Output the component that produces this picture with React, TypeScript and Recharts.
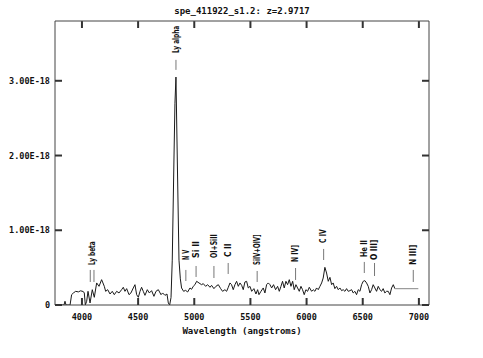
import { ComposedChart, Line, XAxis, YAxis, ReferenceLine, ReferenceDot, Label } from 'recharts';

// wavelength (angstroms) and flux (units of 1E-18)
const waves = [3800, 3840, 3849, 3858, 3894, 3908, 3923, 3944, 3968, 3988, 4012, 4021, 4030, 4042, 4054, 4072, 4092, 4110, 4131, 4152, 4175, 4199, 4211, 4229, 4250, 4270, 4288, 4309, 4330, 4353, 4368, 4383, 4398, 4419, 4436, 4457, 4472, 4487, 4502, 4517, 4531, 4546, 4561, 4582, 4600, 4620, 4641, 4659, 4680, 4704, 4718, 4739, 4757, 4769, 4781, 4793, 4804, 4819, 4828, 4837, 4849, 4864, 4876, 4887, 4905, 4923, 4941, 4962, 4976, 4991, 5006, 5021, 5042, 5065, 5080, 5101, 5119, 5140, 5154, 5175, 5193, 5214, 5235, 5252, 5273, 5288, 5303, 5318, 5332, 5347, 5362, 5377, 5392, 5407, 5422, 5436, 5451, 5466, 5481, 5496, 5511, 5531, 5549, 5564, 5576, 5594, 5614, 5629, 5644, 5659, 5674, 5689, 5706, 5724, 5742, 5757, 5772, 5786, 5801, 5816, 5831, 5846, 5861, 5876, 5890, 5905, 5920, 5935, 5950, 5964, 5979, 5994, 6009, 6024, 6045, 6059, 6074, 6089, 6104, 6119, 6134, 6148, 6163, 6178, 6193, 6208, 6223, 6237, 6252, 6267, 6282, 6297, 6312, 6326, 6341, 6356, 6371, 6386, 6401, 6415, 6430, 6445, 6460, 6475, 6490, 6504, 6519, 6534, 6549, 6564, 6579, 6593, 6608, 6623, 6638, 6653, 6668, 6682, 6697, 6712, 6727, 6742, 6757, 6772, 6786];
const fluxes = [0, 0, 0.05, 0, 0, 0.138, 0.16, 0.183, 0.175, 0.19, 0.18, 0.16, 0, 0.05, 0.183, 0.027, 0.205, 0.103, 0.295, 0.25, 0.339, 0.25, 0.183, 0.205, 0.147, 0.183, 0.138, 0.183, 0.161, 0.205, 0.237, 0.183, 0.219, 0.138, 0.161, 0.228, 0.272, 0.138, 0.103, 0.183, 0.237, 0.183, 0.129, 0.205, 0.161, 0.192, 0.116, 0.183, 0.205, 0.138, 0.161, 0.129, 0.147, 0.027, 0, 0.1, 0.6, 1.94, 2.7, 3.05, 1.94, 0.6, 0.35, 0.228, 0.183, 0.196, 0.174, 0.228, 0.21, 0.25, 0.272, 0.317, 0.295, 0.272, 0.286, 0.25, 0.272, 0.237, 0.263, 0.219, 0.25, 0.272, 0.219, 0.183, 0.205, 0.183, 0.237, 0.295, 0.272, 0.205, 0.272, 0.317, 0.25, 0.295, 0.263, 0.205, 0.308, 0.317, 0.228, 0.25, 0.183, 0.219, 0.147, 0.205, 0.138, 0.183, 0.228, 0.161, 0.272, 0.295, 0.272, 0.228, 0.272, 0.205, 0.25, 0.183, 0.25, 0.317, 0.228, 0.317, 0.272, 0.339, 0.25, 0.317, 0.205, 0.272, 0.228, 0.183, 0.25, 0.205, 0.138, 0.205, 0.183, 0.237, 0.183, 0.205, 0.183, 0.228, 0.205, 0.25, 0.295, 0.361, 0.504, 0.428, 0.317, 0.37, 0.272, 0.295, 0.219, 0.25, 0.205, 0.228, 0.192, 0.205, 0.183, 0.219, 0.183, 0.192, 0.205, 0.161, 0.183, 0.138, 0.205, 0.183, 0.272, 0.317, 0.326, 0.295, 0.25, 0.161, 0.205, 0.272, 0.228, 0.183, 0.25, 0.205, 0.183, 0.219, 0.161, 0.183, 0.183, 0.138, 0.228, 0.272, 0.219];

// grey continuation past the end of the data
const tailWaves = [6786, 6995];
const tailFluxes = [0.219, 0.219];

const xTicks = [4000, 4500, 5000, 5500, 6000, 6500, 7000];
const yTicks = [0, 1, 2, 3];
const yMax = 3.8;
const topTickLen = 0.094; // ~7px in flux units

// line markers: wavelength, bottom and top of the marker (flux units)
const markerWaves = [4074, 4107, 4837, 4925, 5016, 5175, 5302, 5560, 5902, 6152, 6514, 6605, 6950];
const markerLows = [0.308, 0.308, 3.146, 0.321, 0.375, 0.361, 0.415, 0.308, 0.335, 0.602, 0.428, 0.388, 0.308];
const markerHighs = [0.469, 0.469, 3.28, 0.469, 0.522, 0.522, 0.562, 0.455, 0.495, 0.75, 0.576, 0.562, 0.469];

// line names: wavelength and the flux level where the text starts
const lineNames = ['Ly beta', 'Ly alpha', 'N V', 'Si II', 'OI+SiII', 'C II', 'SiIV+OIV]', 'N IV]', 'C IV', 'He II', 'O III]', 'N III]'];
const nameWaves = [4090, 4837, 4925, 5016, 5175, 5302, 5560, 5902, 6152, 6514, 6605, 6950];
const nameLevels = [0.535, 3.373, 0.602, 0.629, 0.629, 0.643, 0.535, 0.576, 0.83, 0.643, 0.602, 0.535];

const spectrum = waves.map((w, i) => ({ wave: w, flux: fluxes[i] }));
const tail = tailWaves.map((w, i) => ({ wave: w, flux: tailFluxes[i] }));

const FONT = '"DejaVu Sans Mono", monospace';
const FRAME = '#444';
const TICK = '#333';

const fmtY = (v: number) => (v === 0 ? '0' : `${v.toFixed(2)}E-18`);

const BottomTick = ({ x, y, payload }: any) => (
  <g>
    <line x1={x} x2={x} y1={y} y2={y - 7} stroke={TICK} strokeWidth={2} />
    <text x={x} y={y + 15} textAnchor="middle" fontFamily={FONT} fontWeight="bold" fontSize={8.5} fill="#111">
      {payload.value}
    </text>
  </g>
);

const LeftTick = ({ x, y, payload }: any) => (
  <g>
    <line x1={x} x2={x + 7} y1={y} y2={y} stroke={TICK} strokeWidth={2} />
    <text x={x - 5} y={y} dy="0.35em" textAnchor="end" fontFamily={FONT} fontWeight="bold" fontSize={8.5} fill="#111">
      {fmtY(payload.value)}
    </text>
  </g>
);

const RightTick = ({ x, y }: any) => <line x1={x} x2={x - 7} y1={y} y2={y} stroke={TICK} strokeWidth={2} />;

export default function App() {
  return (
    <div style={{ position: 'absolute', left: 0, top: 0, background: '#fff' }}>
      <ComposedChart width={483} height={358} data={spectrum} margin={{ top: 20, right: 53, bottom: 52, left: 54 }}>
        <XAxis
          dataKey="wave"
          type="number"
          domain={[3760, 7090]}
          ticks={xTicks}
          height={1}
          tickSize={0}
          tickMargin={0}
          tickLine={false}
          stroke={FRAME}
          tick={<BottomTick />}
          interval={0}
          allowDataOverflow
        >
          <Label
            value="Wavelength (angstroms)"
            position="bottom"
            offset={22}
            fontFamily={FONT}
            fontWeight="bold"
            fontSize={9}
            fill="#111"
          />
        </XAxis>
        <XAxis
          xAxisId="top"
          orientation="top"
          dataKey="wave"
          type="number"
          domain={[3760, 7090]}
          height={1}
          tick={false}
          tickLine={false}
          stroke={FRAME}
          allowDataOverflow
        >
          <Label
            value="spe_411922_s1.2: z=2.9717"
            position="top"
            offset={6}
            fontFamily={FONT}
            fontWeight="bold"
            fontSize={9}
            fill="#111"
          />
        </XAxis>
        <YAxis
          type="number"
          domain={[0, yMax]}
          ticks={yTicks}
          width={1}
          tickSize={0}
          tickMargin={0}
          tickLine={false}
          stroke={FRAME}
          tick={<LeftTick />}
          interval={0}
          allowDataOverflow
        />
        <YAxis
          yAxisId="right"
          orientation="right"
          type="number"
          domain={[0, yMax]}
          ticks={yTicks}
          width={1}
          tickSize={0}
          tickMargin={0}
          tickLine={false}
          stroke={FRAME}
          tick={<RightTick />}
          interval={0}
          allowDataOverflow
        />
        {/* inward ticks along the top frame */}
        {xTicks.map((t) => (
          <ReferenceLine
            key={`t${t}`}
            segment={[{ x: t, y: yMax - topTickLen }, { x: t, y: yMax - 0.001 }]}
            stroke={TICK}
            strokeWidth={2}
            ifOverflow="visible"
          />
        ))}
        {markerWaves.map((w, i) => (
          <ReferenceLine
            key={`m${i}`}
            segment={[{ x: w, y: markerLows[i] }, { x: w, y: markerHighs[i] }]}
            stroke="#777"
            strokeWidth={1}
          />
        ))}
        {lineNames.map((name, i) => (
          <ReferenceDot
            key={`n${i}`}
            x={nameWaves[i]}
            y={nameLevels[i]}
            r={0}
            shape={(p: any) => (
              <text
                x={p.cx}
                y={p.cy}
                dy="0.35em"
                transform={`rotate(-90 ${p.cx} ${p.cy})`}
                textAnchor="start"
                fontFamily='"DejaVu Sans Condensed", sans-serif'
                fontWeight="bold"
                fontSize={8}
                fill="#111"
                textLength={name.length * 3.4}
                lengthAdjust="spacingAndGlyphs"
              >
                {name}
              </text>
            )}
          />
        ))}
        <Line
          data={spectrum}
          dataKey="flux"
          type="linear"
          stroke="#1a1a1a"
          strokeWidth={1}
          dot={false}
          isAnimationActive={false}
        />
        <Line
          data={tail}
          dataKey="flux"
          type="linear"
          stroke="#999"
          strokeWidth={1.2}
          dot={false}
          isAnimationActive={false}
        />
      </ComposedChart>
    </div>
  );
}
